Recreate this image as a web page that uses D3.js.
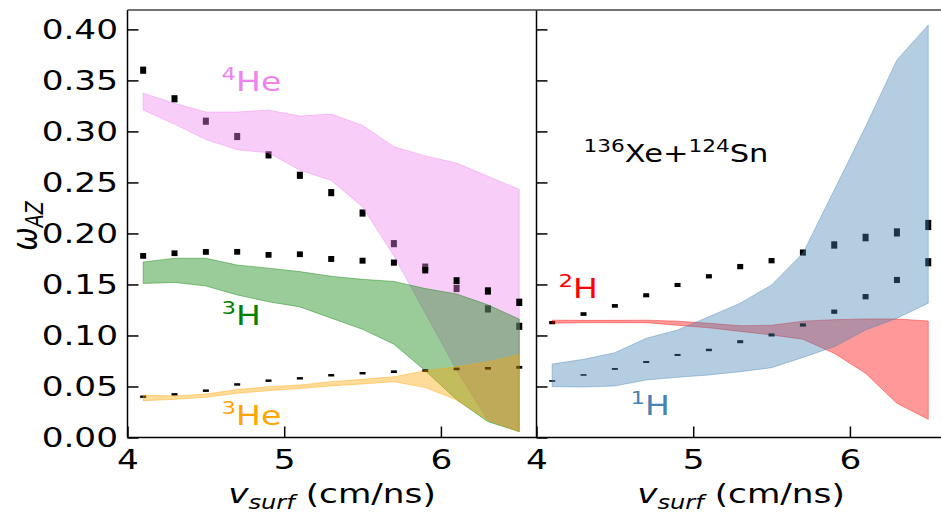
<!DOCTYPE html>
<html>
<head>
<meta charset="utf-8">
<script src="https://cdn.jsdelivr.net/npm/d3@7"></script>
<style>
  html, body { margin: 0; padding: 0; background: #fff; }
  svg { display: block; font-family: "DejaVu Sans", sans-serif; }
</style>
</head>
<body>
<svg id="chart" width="941" height="513"></svg>
<script>
// Surface velocity bins (cm/ns)
const vSurf = [4.1, 4.3, 4.5, 4.7, 4.9, 5.1, 5.3, 5.5, 5.7, 5.9, 6.1, 6.3, 6.5];

// Left panel: 4He
const he4Omega  = [0.360, 0.332, 0.310, 0.295, 0.277, 0.257, 0.240, 0.220, 0.190, 0.167, 0.146, 0.126, 0.109];
const he4Err    = [0.0035, 0.0035, 0.0035, 0.0035, 0.0035, 0.0035, 0.0035, 0.0035, 0.0035, 0.0035, 0.0035, 0.0035, 0.0035];
const he4BandLo = [0.321, 0.307, 0.292, 0.282, 0.279, 0.262, 0.252, 0.226, 0.178, 0.122, 0.066, 0.017, 0.006];
const he4BandHi = [0.3375, 0.3275, 0.319, 0.319, 0.321, 0.315, 0.317, 0.306, 0.285, 0.276, 0.269, 0.256, 0.243];

// Left panel: 3H
const h3Omega  = [0.178, 0.1806, 0.1819, 0.182, 0.179, 0.1796, 0.175, 0.1733, 0.1714, 0.164, 0.1537, 0.1436, 0.1325];
const h3Err    = [0.0028, 0.0028, 0.0028, 0.0028, 0.0028, 0.0028, 0.0029, 0.0029, 0.003, 0.0032, 0.0034, 0.0036, 0.0036];
const h3BandLo = [0.151, 0.152, 0.1485, 0.1397, 0.133, 0.128, 0.117, 0.106, 0.0915, 0.0655, 0.037, 0.0155, 0.0057];
const h3BandHi = [0.172, 0.1757, 0.1757, 0.169, 0.166, 0.1626, 0.158, 0.155, 0.153, 0.146, 0.1407, 0.130, 0.116];

// Left panel: 3He
const he3Omega  = [0.040, 0.0423, 0.0459, 0.052, 0.0557, 0.058, 0.061, 0.063, 0.0645, 0.0655, 0.0672, 0.0678, 0.0688];
const he3Err    = [0.0012, 0.0012, 0.0012, 0.0012, 0.0012, 0.0012, 0.0012, 0.0012, 0.0013, 0.0013, 0.0013, 0.0013, 0.0014];
const he3BandLo = [0.036, 0.0374, 0.0394, 0.0433, 0.0459, 0.048, 0.0505, 0.0525, 0.0547, 0.049, 0.0368, 0.017, 0.0057];
const he3BandHi = [0.0417, 0.0407, 0.0426, 0.047, 0.0498, 0.0515, 0.0547, 0.057, 0.0596, 0.0655, 0.0694, 0.0743, 0.081];

// Right panel: 2H
const h2Omega  = [0.1126, 0.121, 0.129, 0.1394, 0.1495, 0.158, 0.1675, 0.1733, 0.1813, 0.1887, 0.196, 0.201, 0.2083];
const h2Err    = [0.0016, 0.0018, 0.0018, 0.002, 0.002, 0.0021, 0.0026, 0.0026, 0.003, 0.0036, 0.0037, 0.004, 0.005];
const h2BandLo = [0.112, 0.1125, 0.1125, 0.1125, 0.110, 0.1075, 0.104, 0.1005, 0.0963, 0.0825, 0.0629, 0.0335, 0.0178];
const h2BandHi = [0.115, 0.1148, 0.1148, 0.115, 0.114, 0.112, 0.1095, 0.110, 0.114, 0.1155, 0.1162, 0.1162, 0.1142];

// Right panel: 1H
const h1Omega  = [0.0554, 0.0613, 0.0672, 0.074, 0.0809, 0.0858, 0.0939, 0.1005, 0.1103, 0.1233, 0.138, 0.1544, 0.1718];
const h1Err    = [0.0008, 0.0008, 0.0009, 0.001, 0.001, 0.0012, 0.0015, 0.0015, 0.0016, 0.0021, 0.0026, 0.003, 0.004];
const h1BandLo = [0.0498, 0.0495, 0.0505, 0.0564, 0.059, 0.0613, 0.0645, 0.0684, 0.0785, 0.089, 0.1054, 0.1169, 0.1316];
const h1BandHi = [0.072, 0.0766, 0.0831, 0.0972, 0.1054, 0.1184, 0.1316, 0.1495, 0.1806, 0.2426, 0.3047, 0.3701, 0.4044];

// Axis ticks
const xMajor = [4, 5, 6];
const xMinor = [4.2, 4.4, 4.6, 4.8, 5.2, 5.4, 5.6, 5.8, 6.2, 6.4, 6.6];
const yMajor = [0, 0.05, 0.10, 0.15, 0.20, 0.25, 0.30, 0.35, 0.40];
const yMajorLabels = ["0.00", "0.05", "0.10", "0.15", "0.20", "0.25", "0.30", "0.35", "0.40"];
const yMinor = d3.range(0, 42).map(i => i / 100).filter(v => Math.round(v * 100) % 5 !== 0);

// Layout
const SX = 1.27;                 // horizontal text stretch of the figure
const plotTop = 10, plotBottom = 437.5;
const leftX0 = 127.5, midX = 536.5, rightX1 = 945.5;
const xDomain = [4, 6.61];

const svg = d3.select("#chart");
const y = d3.scaleLinear().domain([0, 0.419]).range([plotBottom, plotTop]);
const xL = d3.scaleLinear().domain(xDomain).range([leftX0, midX]);
const xR = d3.scaleLinear().domain(xDomain).range([midX, rightX1]);

const COL = {
  he4: "#EE82EE", h3: "#008000", he3: "#FFA500", h2: "#FF0000", h1: "#4682B4"
};

function rows(lo, hi) { return vSurf.map((v, i) => ({ v, lo: lo[i], hi: hi[i] })); }
function pts(val, err) { return vSurf.map((v, i) => ({ v, val: val[i], err: err[i] })); }

function drawMarkers(g, x, val, err) {
  g.append("g").selectAll("rect").data(pts(val, err)).join("rect")
    .attr("x", d => x(d.v) - 3)
    .attr("width", 6)
    .attr("y", d => y(d.val + d.err))
    .attr("height", d => y(d.val - d.err) - y(d.val + d.err))
    .attr("fill", "#000");
}

function drawBand(g, x, lo, hi, color) {
  const area = d3.area().x(d => x(d.v)).y0(d => y(d.lo)).y1(d => y(d.hi));
  g.append("path").datum(rows(lo, hi))
    .attr("d", area)
    .attr("fill", color).attr("fill-opacity", 0.4)
    .attr("stroke", color).attr("stroke-opacity", 0.4).attr("stroke-width", 1);
}

// Stretched text helper: parts = [{t, size, dy, italic}]
function label(x, yy, parts, opts = {}) {
  const t = svg.append("text")
    .attr("transform", `translate(${x},${yy}) scale(${SX},1)` + (opts.rotate ? ` rotate(${opts.rotate})` : ""))
    .attr("text-anchor", opts.anchor || "start")
    .attr("fill", opts.color || "#000");
  parts.forEach(p => {
    const s = t.append("tspan").text(p.t).attr("font-size", p.size);
    if (p.dy) s.attr("dy", p.dy);
    if (p.italic) s.attr("font-style", "italic");
  });
  return t;
}

// ---- Left panel data ----
const gL = svg.append("g");
drawMarkers(gL, xL, he4Omega, he4Err);
drawBand(gL, xL, he4BandLo, he4BandHi, COL.he4);
drawMarkers(gL, xL, h3Omega, h3Err);
drawBand(gL, xL, h3BandLo, h3BandHi, COL.h3);
drawMarkers(gL, xL, he3Omega, he3Err);
drawBand(gL, xL, he3BandLo, he3BandHi, COL.he3);

// ---- Right panel data ----
const gR = svg.append("g");
drawMarkers(gR, xR, h2Omega, h2Err);
drawBand(gR, xR, h2BandLo, h2BandHi, COL.h2);
drawMarkers(gR, xR, h1Omega, h1Err);
drawBand(gR, xR, h1BandLo, h1BandHi, COL.h1);

// ---- Axes ----
function xAxis(x) {
  const g = svg.append("g").attr("transform", `translate(0,${plotBottom})`);
  g.call(d3.axisBottom(x).tickValues(xMinor.filter(v => v < xDomain[1])).tickSize(-6).tickFormat(""));
  g.call(d3.axisBottom(x).tickValues(xMajor).tickSize(-11).tickPadding(12.5).tickFormat(d3.format("d")));
  g.selectAll(".domain").remove();
  g.selectAll("line").attr("stroke", "#000").attr("stroke-width", 1.5);
  g.selectAll("text").attr("font-size", 27).attr("font-family", "DejaVu Sans")
    .attr("fill", "#000").attr("transform", `scale(${SX},1)`);
}
function yAxis(x0, withLabels) {
  const g = svg.append("g").attr("transform", `translate(${x0},0)`);
  g.call(d3.axisLeft(y).tickValues(yMinor).tickSize(-6).tickFormat(""));
  g.call(d3.axisLeft(y).tickValues(yMajor).tickSize(-11).tickPadding(9.5)
    .tickFormat((d, i) => withLabels ? yMajorLabels[i] : ""));
  g.selectAll(".domain").remove();
  g.selectAll("line").attr("stroke", "#000").attr("stroke-width", 1.5);
  g.selectAll("text").attr("font-size", 27).attr("font-family", "DejaVu Sans")
    .attr("fill", "#000").attr("x", -9.5 / SX).attr("transform", `scale(${SX},1)`);
}
xAxis(xL);
xAxis(xR);
yAxis(leftX0, true);
yAxis(midX, false);

// Spines
const spine = svg.append("g").attr("stroke", "#000").attr("stroke-width", 1.5).attr("fill", "none");
spine.append("line").attr("x1", leftX0).attr("x2", leftX0).attr("y1", plotTop).attr("y2", plotBottom);
spine.append("line").attr("x1", midX).attr("x2", midX).attr("y1", plotTop).attr("y2", plotBottom);
spine.append("line").attr("x1", leftX0).attr("x2", rightX1).attr("y1", plotBottom).attr("y2", plotBottom);
spine.append("line").attr("x1", leftX0).attr("x2", rightX1).attr("y1", plotTop).attr("y2", plotTop).attr("stroke", "#444");

// ---- Species labels ----
const LS = 26, SUP = 18;
function isotope(x, v, mass, sym, color) {
  label(x, y(v), [
    { t: mass, size: SUP, dy: -11 },
    { t: sym, size: LS, dy: 11 }
  ], { color });
}
isotope(xL(4.6), 0.340, "4", "He", COL.he4);
isotope(xL(4.6), 0.110, "3", "H", COL.h3);
isotope(xL(4.6), 0.012, "3", "He", COL.he3);
isotope(xR(4.14), 0.137, "2", "H", COL.h2);
isotope(xR(4.6), 0.022, "1", "H", COL.h1);

label(xR(4.3), y(0.27), [
  { t: "136", size: 17, dy: -10 },
  { t: "Xe+", size: 24, dy: 10 },
  { t: "124", size: 17, dy: -10 },
  { t: "Sn", size: 24, dy: 10 }
]);

// ---- Axis titles ----
function xTitle(cx) {
  label(cx, 503, [
    { t: "v", size: 27, italic: true },
    { t: "surf", size: 19, dy: 6, italic: true },
    { t: " (cm/ns)", size: 27, dy: -6 }
  ], { anchor: "middle" });
}
xTitle((leftX0 + midX) / 2);
xTitle((midX + rightX1) / 2);

label(37, 226, [
  { t: "ω", size: 28, italic: true },
  { t: "AZ", size: 19, dy: 5, italic: true }
], { anchor: "middle", rotate: -90 });
</script>
</body>
</html>
